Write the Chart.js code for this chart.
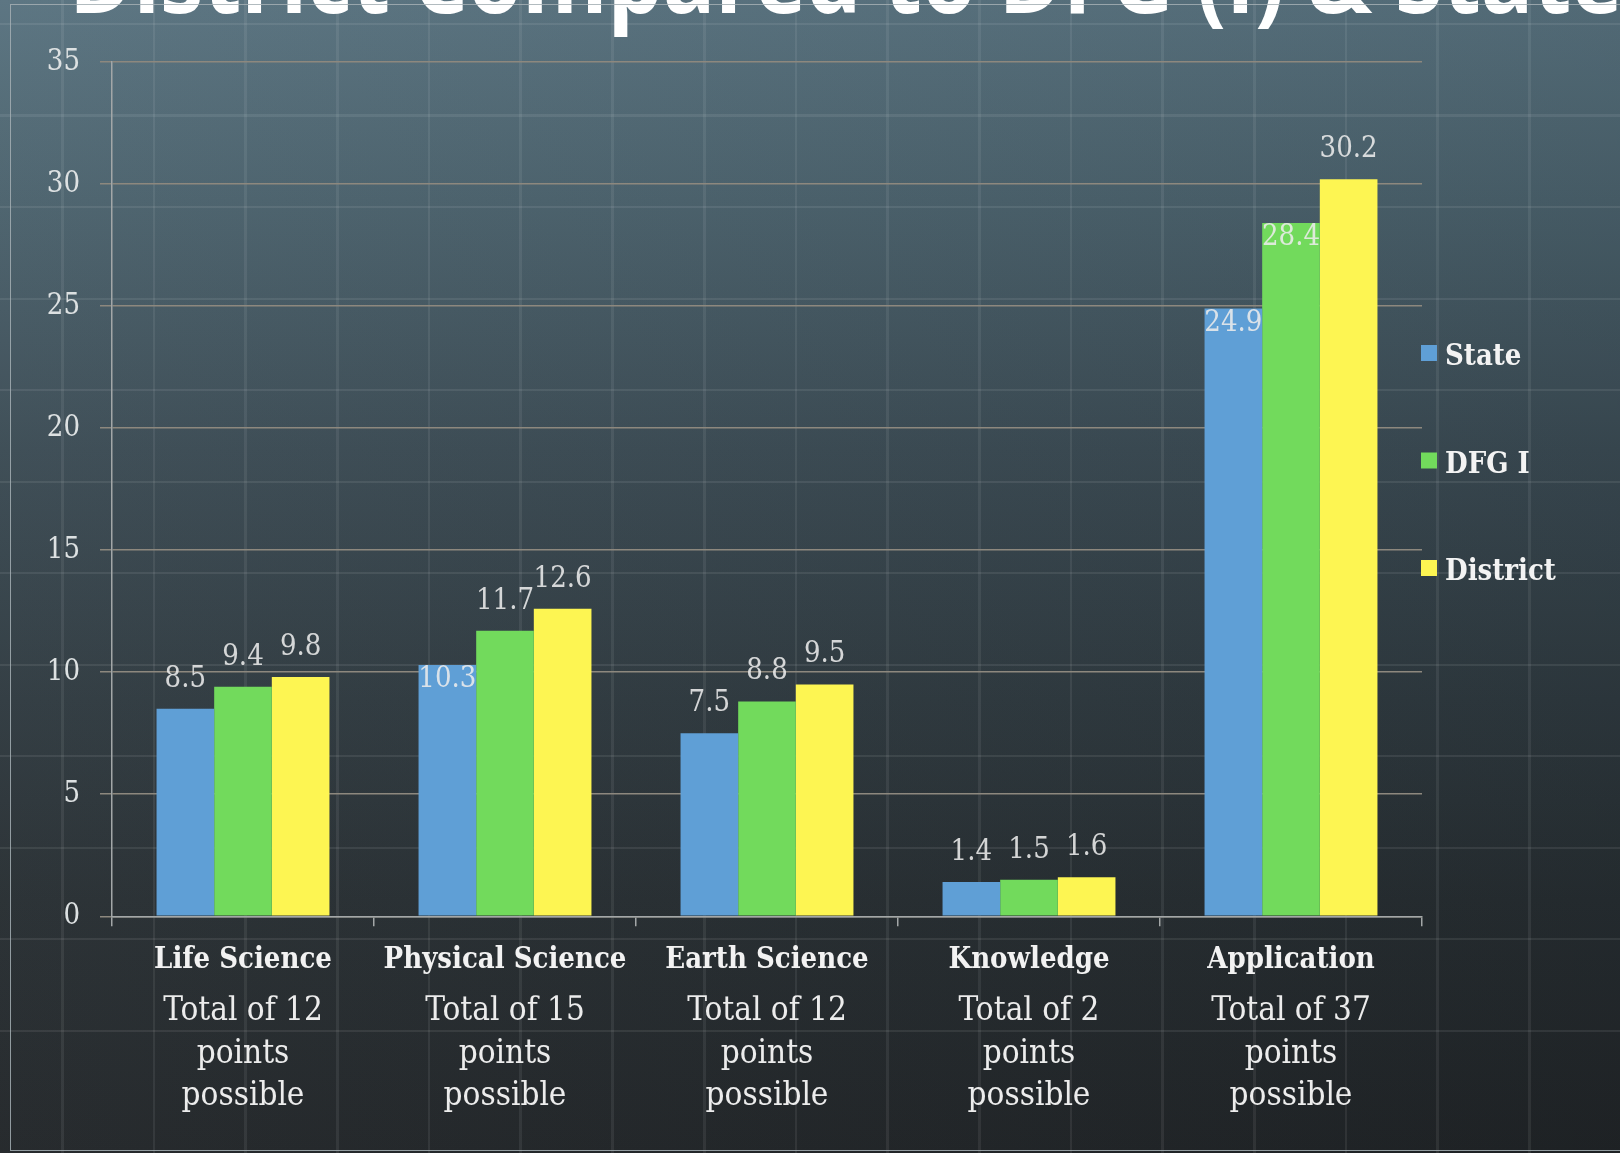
<!DOCTYPE html>
<html>
<head>
<meta charset="utf-8">
<title>District Compared to DFG (I) &amp; State</title>
<script src="https://cdn.jsdelivr.net/npm/chart.js@4.4.1/dist/chart.umd.min.js"></script>
<style>
  html, body { margin: 0; padding: 0; }
  body {
    width: 1620px;
    height: 1153px;
    overflow: hidden;
    position: relative;
    background:
      repeating-linear-gradient(90deg, rgba(255,255,255,0) 0px, rgba(255,255,255,0) 89px, rgba(255,255,255,0.07) 89px, rgba(255,255,255,0.07) 91.7px) -28px 0 / auto repeat,
      repeating-linear-gradient(180deg, rgba(255,255,255,0) 0px, rgba(255,255,255,0) 89px, rgba(255,255,255,0.08) 89px, rgba(255,255,255,0.08) 91.5px) 0 -66px / auto repeat,
      linear-gradient(90deg, rgba(255,255,255,0.03), rgba(0,0,0,0.07)),
      linear-gradient(180deg, #58727f 0px, #4a616c 200px, #3a4a53 450px, #2e393f 700px, #262d31 900px, #202427 1153px);
  }
  #chart { position: absolute; left: 0; top: 0; }
  #frame {
    position: absolute; left: 10px; top: 4px; width: 1640px; height: 1145px;
    border: 1.5px solid rgba(165,175,180,0.85);
    pointer-events: none;
  }
</style>
</head>
<body>
<canvas id="chart" width="1620" height="1153"></canvas>
<div id="frame"></div>
<script>
// --- chart data ---
const titleText = 'District Compared to DFG (I) & State';
const categories = ['Life Science', 'Physical Science', 'Earth Science', 'Knowledge', 'Application'];
const pointTotals = [
  ['Total of 12', 'points', 'possible'],
  ['Total of 15', 'points', 'possible'],
  ['Total of 12', 'points', 'possible'],
  ['Total of 2', 'points', 'possible'],
  ['Total of 37', 'points', 'possible']
];
const seriesNames = ['State', 'DFG I', 'District'];
const stateScores = [8.5, 10.3, 7.5, 1.4, 24.9];
const dfgScores = [9.4, 11.7, 8.8, 1.5, 28.4];
const districtScores = [9.8, 12.6, 9.5, 1.6, 30.2];
const yMin = 0, yMax = 35, yStep = 5;

const serif = "'DejaVu Serif Condensed', 'Liberation Serif', serif";
const axisGray = '#a3a7a8';
const gridColor = '#8d887e';

// --- value labels, drawn per series so later bars cover earlier labels ---
const barLabels = {
  id: 'barLabels',
  afterDatasetDraw(chart, args) {
    const ctx = chart.ctx;
    const i = args.index;
    const values = chart.data.datasets[i].data;
    const hasNext = i + 1 < chart.data.datasets.length;
    const next = hasNext ? chart.getDatasetMeta(i + 1) : null;
    ctx.save();
    ctx.font = `29px ${serif}`;
    ctx.fillStyle = 'rgba(236,236,236,0.88)';
    ctx.textAlign = 'center';
    ctx.textBaseline = 'alphabetic';
    args.meta.data.forEach((bar, j) => {
      let y = bar.y - 22;
      // label would run into a taller neighbour: tuck it into the bar top
      if (next && next.data[j] && next.data[j].y < y - 10) y = bar.y + 22;
      ctx.fillText(values[j].toFixed(1), bar.x, y);
    });
    ctx.restore();
  }
};

// --- legend on the right ---
const sideLegend = {
  id: 'sideLegend',
  afterDraw(chart) {
    const ctx = chart.ctx;
    const {right, top} = chart.chartArea;
    ctx.save();
    ctx.font = `bold 29px ${serif}`;
    ctx.textBaseline = 'alphabetic';
    chart.data.datasets.forEach((ds, i) => {
      const cy = top + 291 + i * 107.5;
      ctx.fillStyle = ds.backgroundColor;
      ctx.fillRect(right - 1, cy - 8, 16, 16);
      ctx.fillStyle = '#f3f3f3';
      ctx.fillText(ds.label, right + 23, cy + 12);
    });
    ctx.restore();
  }
};

// --- slide title, cut off at the top edge ---
const slideTitle = {
  id: 'slideTitle',
  afterDraw(chart) {
    const ctx = chart.ctx;
    ctx.save();
    ctx.font = "bold 100px 'Open Sans'";
    const lead = ctx.measureText('District Compared to DFG (I) & ').width;
    ctx.translate(69, 12.5);
    ctx.scale(1326 / lead, 1);
    ctx.fillStyle = '#ffffff';
    ctx.fillText(titleText, 0, 0);
    ctx.restore();
  }
};

const chart = new Chart(document.getElementById('chart'), {
  type: 'bar',
  data: {
    labels: categories,
    datasets: [
      { label: seriesNames[0], data: stateScores, backgroundColor: '#5f9fd6' },
      { label: seriesNames[1], data: dfgScores, backgroundColor: '#72da5c' },
      { label: seriesNames[2], data: districtScores, backgroundColor: '#fdf552' }
    ]
  },
  options: {
    responsive: false,
    animation: false,
    devicePixelRatio: 1,
    layout: { padding: { left: 0, right: 198, top: 62, bottom: 40 } },
    datasets: { bar: { categoryPercentage: 0.66, barPercentage: 1 } },
    plugins: { legend: { display: false }, tooltip: { enabled: false } },
    scales: {
      x: {
        weight: 0,
        offset: true,
        grid: { display: true, drawOnChartArea: false, offset: true, tickLength: 10, color: axisGray, lineWidth: 1.5 },
        border: { color: axisGray, width: 1.5 },
        ticks: { padding: 20, color: '#f2f2f2', font: { family: serif, size: 29, weight: 'bold', lineHeight: 1 } }
      },
      x2: {
        type: 'category',
        position: 'bottom',
        weight: 1,
        offset: true,
        labels: pointTotals,
        grid: { display: false, drawTicks: false },
        border: { display: false },
        ticks: { padding: -5, color: '#ececec', font: { family: serif, size: 33, lineHeight: 1.29 } }
      },
      y: {
        min: yMin,
        max: yMax,
        afterFit(scale) { scale.width = 112; },
        ticks: { stepSize: yStep, padding: 20, color: '#dde1e2', font: { family: serif, size: 29 } },
        grid: { color: gridColor, lineWidth: 1.5, tickLength: 12 },
        border: { color: axisGray, width: 1.5 }
      }
    }
  },
  plugins: [barLabels, sideLegend, slideTitle]
});
</script>
</body>
</html>
